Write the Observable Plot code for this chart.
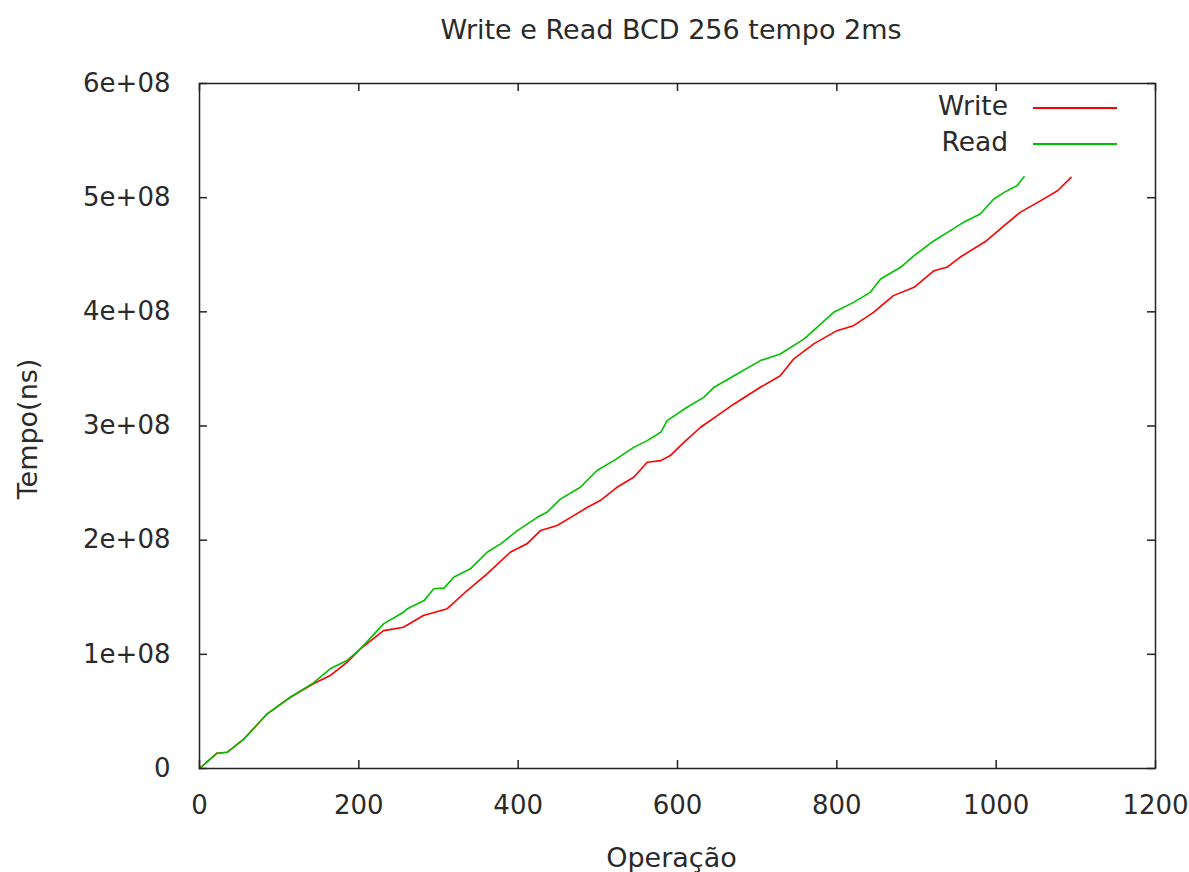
<!DOCTYPE html>
<html><head><meta charset="utf-8">
<script src="https://cdn.jsdelivr.net/npm/d3@7"></script>
<script src="https://cdn.jsdelivr.net/npm/@observablehq/plot@0.6"></script>
<style>
body{margin:0;background:#fff;font-family:"DejaVu Sans",sans-serif;color:#2a2a2a}
#wrap{position:relative;width:1189px;height:872px;overflow:hidden}
#title{position:absolute;left:671px;top:0;height:60px;line-height:60px;font-size:27px;transform:translateX(-50%);white-space:nowrap}
#chart{position:absolute;left:0;top:60px}
.lg{position:absolute;font-size:26.5px;line-height:28px;white-space:nowrap;text-align:right}
.ln{position:absolute;height:2px}
</style></head>
<body>
<div id="wrap">
  <div id="title">Write e Read BCD 256 tempo 2ms</div>
  <div id="chart"></div>
  <div id="legend"></div>
</div>
<script>
// ---- data ----
const writeOps = [0,22,35,56,85,114,143,164,185,202,231,256,281,311,336,361,390,411,428,449,466,487,503,524,545,562,579,591,608,629,650,671,704,729,746,771,800,821,846,871,897,922,938,955,988,1010,1030,1056,1077,1094];
const writeNs  = [0,0.134e8,0.143e8,0.26e8,0.479e8,0.624e8,0.742e8,0.814e8,0.93e8,1.048e8,1.208e8,1.237e8,1.34e8,1.40e8,1.559e8,1.705e8,1.894e8,1.968e8,2.084e8,2.128e8,2.20e8,2.288e8,2.347e8,2.463e8,2.551e8,2.682e8,2.697e8,2.741e8,2.857e8,2.989e8,3.091e8,3.193e8,3.339e8,3.44e8,3.588e8,3.719e8,3.835e8,3.879e8,3.996e8,4.142e8,4.215e8,4.36e8,4.39e8,4.48e8,4.623e8,4.755e8,4.871e8,4.974e8,5.061e8,5.178e8];
const readOps  = [0,22,35,56,85,114,143,164,185,202,231,256,261,282,294,307,319,340,361,378,399,424,436,453,478,499,520,545,562,579,587,612,633,646,671,704,729,759,796,821,842,855,880,897,922,939,959,980,997,1010,1026,1035];
const readNs   = [0,0.134e8,0.143e8,0.26e8,0.479e8,0.624e8,0.75e8,0.873e8,0.946e8,1.048e8,1.267e8,1.369e8,1.40e8,1.471e8,1.574e8,1.58e8,1.675e8,1.749e8,1.894e8,1.968e8,2.084e8,2.20e8,2.244e8,2.36e8,2.463e8,2.61e8,2.697e8,2.813e8,2.872e8,2.945e8,3.047e8,3.164e8,3.251e8,3.34e8,3.44e8,3.573e8,3.631e8,3.763e8,3.996e8,4.083e8,4.171e8,4.288e8,4.39e8,4.492e8,4.623e8,4.696e8,4.784e8,4.857e8,4.988e8,5.046e8,5.105e8,5.184e8];
const xTicks = [0,200,400,600,800,1000,1200];
const xTickLabels = ["0","200","400","600","800","1000","1200"];
const yTicks = [0,1e8,2e8,3e8,4e8,5e8,6e8];
const yTickLabels = ["0","1e+08","2e+08","3e+08","4e+08","5e+08","6e+08"];
const seriesNames = ["Write","Read"];
const seriesColors = ["#ff0000","#00c000"];

const writeData = writeOps.map((x,i)=>({x, y: writeNs[i]}));
const readData = readOps.map((x,i)=>({x, y: readNs[i]}));
const xLab = new Map(xTicks.map((t,i)=>[t,xTickLabels[i]]));
const yLab = new Map(yTicks.map((t,i)=>[t,yTickLabels[i]]));

const W = 1189, H = 812, mT = 23, mL = 199, mR = 34, mB = 104;
const fw = W - mL - mR, fh = H - mT - mB, tk = 8;
const ink = "#222";
const txt = "#2a2a2a";

const chart = Plot.plot({
  width: W, height: H,
  marginTop: mT, marginLeft: mL, marginRight: mR, marginBottom: mB,
  style: {fontFamily: '"DejaVu Sans", sans-serif', fontSize: "26px", color: txt, background: "#fff"},
  x: {domain: [0,1200]},
  y: {domain: [0,6e8]},
  marks: [
    Plot.line(writeData, {x: "x", y: "y", stroke: seriesColors[0], strokeWidth: 1.6}),
    Plot.line(readData, {x: "x", y: "y", stroke: seriesColors[1], strokeWidth: 1.6}),
    Plot.tickX(xTicks, {x: d=>d, insetTop: fh - tk, stroke: ink, strokeWidth: 1.5}),
    Plot.tickX(xTicks, {x: d=>d, insetBottom: fh - tk, stroke: ink, strokeWidth: 1.5}),
    Plot.tickY(yTicks, {y: d=>d, insetRight: fw - tk, stroke: ink, strokeWidth: 1.5}),
    Plot.tickY(yTicks, {y: d=>d, insetLeft: fw - tk, stroke: ink, strokeWidth: 1.5}),
    Plot.frame({stroke: ink, strokeWidth: 1.5}),
    Plot.axisX(xTicks, {tickSize: 0, tickPadding: 27, tickFormat: d=>xLab.get(d), label: null, fontSize: 26, fill: txt}),
    Plot.axisY(yTicks, {tickSize: 0, tickPadding: 29, tickFormat: d=>yLab.get(d), label: null, fontSize: 26, fill: txt}),
    Plot.text(["Operação"], {frameAnchor: "bottom", lineAnchor: "top", dy: 79, dx: -6, fontSize: 27, fill: txt}),
    Plot.text(["Tempo(ns)"], {frameAnchor: "left", textAnchor: "middle", lineAnchor: "middle", rotate: -90, dx: -171, dy: 3, fontSize: 27, fill: txt})
  ]
});
document.getElementById("chart").appendChild(chart);

// legend inside the plot, top-right
const lg = document.getElementById("legend");
const rows = [{top: 92, line: 106.5}, {top: 128, line: 143}];
seriesNames.forEach((n,i)=>{
  const t = document.createElement("div");
  t.className = "lg"; t.textContent = n;
  t.style.right = (1189 - 1008) + "px"; t.style.top = rows[i].top + "px";
  lg.appendChild(t);
  const l = document.createElement("div");
  l.className = "ln"; l.style.left = "1033px"; l.style.width = "84px";
  l.style.top = rows[i].line + "px"; l.style.background = seriesColors[i];
  lg.appendChild(l);
});
</script>
</body></html>
